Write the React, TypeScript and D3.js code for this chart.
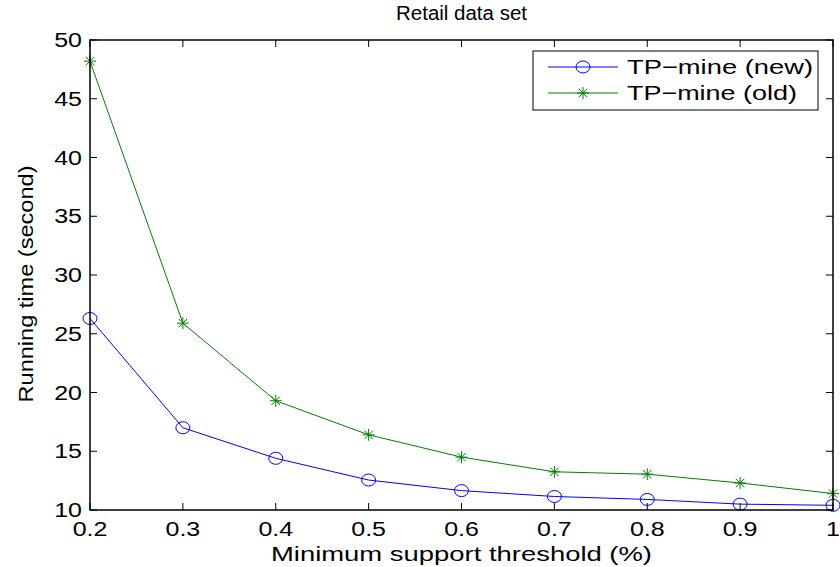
import React, { useEffect, useRef } from "react";
import * as d3 from "d3";

const thresholds = [0.2, 0.3, 0.4, 0.5, 0.6, 0.7, 0.8, 0.9, 1.0];
const tpNew = [26.3, 17.0, 14.4, 12.55, 11.65, 11.15, 10.9, 10.5, 10.4];
const tpOld = [48.2, 25.9, 19.3, 16.4, 14.5, 13.25, 13.05, 12.3, 11.4];
const xTicks = [0.2, 0.3, 0.4, 0.5, 0.6, 0.7, 0.8, 0.9, 1];
const yTicks = [10, 15, 20, 25, 30, 35, 40, 45, 50];
const seriesNames = ["TP\u2212mine (new)", "TP\u2212mine (old)"];

const W = 840;
const H = 567;
const margin = { left: 90, top: 40, right: 7, bottom: 57 };

export default function App() {
  const svgRef = useRef<SVGSVGElement>(null);

  useEffect(() => {
    const svg = d3.select(svgRef.current);
    svg.selectAll("*").remove();
    const font = "'Liberation Sans', Arial, sans-serif";

    const x = d3.scaleLinear().domain([0.2, 1]).range([margin.left, W - margin.right]);
    const y = d3.scaleLinear().domain([10, 50]).range([H - margin.bottom, margin.top]);
    const x0 = margin.left, x1 = W - margin.right;
    const y0 = H - margin.bottom, y1 = margin.top;

    // text comes out wider than plain Liberation Sans in the original, so stretch to fit
    const label = (tx: number, ty: number, txt: string, size: number, len: number, rot = 0) =>
      svg.append("text")
        .attr("transform", `translate(${tx},${ty}) rotate(${rot})`)
        .attr("text-anchor", "middle")
        .attr("font-family", font).attr("font-size", size)
        .attr("textLength", len).attr("lengthAdjust", "spacingAndGlyphs")
        .text(txt);

    label((x0 + x1) / 2, 20, "Retail data set", 20, 131);
    label((x0 + x1) / 2, 561, "Minimum support threshold (%)", 20, 381);
    label(33, 284, "Running time (second)", 20, 237, -90);

    // ticks (inside, on all four sides)
    const tl = 7;
    const tickG = svg.append("g").attr("stroke", "#000").attr("stroke-width", 1);
    xTicks.forEach((t) => {
      tickG.append("line").attr("x1", x(t)).attr("x2", x(t)).attr("y1", y0).attr("y2", y0 - tl);
      tickG.append("line").attr("x1", x(t)).attr("x2", x(t)).attr("y1", y1).attr("y2", y1 + tl);
    });
    yTicks.forEach((t) => {
      tickG.append("line").attr("x1", x0).attr("x2", x0 + tl).attr("y1", y(t)).attr("y2", y(t));
      tickG.append("line").attr("x1", x1).attr("x2", x1 - tl).attr("y1", y(t)).attr("y2", y(t));
    });

    // tick labels
    svg.append("g").selectAll("text").data(xTicks).enter().append("text")
      .attr("transform", (d) => `translate(${x(d)},${y0 + 26}) scale(1.25,1)`)
      .attr("text-anchor", "middle")
      .attr("font-family", font).attr("font-size", 20)
      .text((d) => (d === 1 ? "1" : d.toFixed(1)));
    svg.append("g").selectAll("text").data(yTicks).enter().append("text")
      .attr("transform", (d) => `translate(${x0 - 8},${y(d) + 7}) scale(1.25,1)`)
      .attr("text-anchor", "end")
      .attr("font-family", font).attr("font-size", 20)
      .text((d) => d);

    const line = d3.line<number>().x((_, i) => x(thresholds[i])).y((d) => y(d));

    const star = (g: any, cx: number, cy: number, color: string) => {
      const r = 6;
      [0, 45, 90, 135].forEach((a) => {
        const rad = (a * Math.PI) / 180;
        g.append("line")
          .attr("x1", cx - r * Math.cos(rad)).attr("y1", cy - r * Math.sin(rad))
          .attr("x2", cx + r * Math.cos(rad)).attr("y2", cy + r * Math.sin(rad))
          .attr("stroke", color).attr("stroke-width", 1);
      });
    };

    // old series
    svg.append("path").datum(tpOld).attr("d", line)
      .attr("fill", "none").attr("stroke", "#008000").attr("stroke-width", 1);
    const oldG = svg.append("g");
    tpOld.forEach((d, i) => star(oldG, x(thresholds[i]), y(d), "#008000"));

    // new series
    svg.append("path").datum(tpNew).attr("d", line)
      .attr("fill", "none").attr("stroke", "#0000ff").attr("stroke-width", 1);
    svg.append("g").selectAll("ellipse").data(tpNew).enter().append("ellipse")
      .attr("cx", (_, i) => x(thresholds[i])).attr("cy", (d) => y(d))
      .attr("rx", 7).attr("ry", 6)
      .attr("fill", "none").attr("stroke", "#0000ff").attr("stroke-width", 1);

    // axes box
    svg.append("rect")
      .attr("x", x0).attr("y", y1).attr("width", x1 - x0).attr("height", y0 - y1)
      .attr("fill", "none").attr("stroke", "#000").attr("stroke-width", 1.5);

    // legend
    const lg = svg.append("g");
    lg.append("rect").attr("x", 533).attr("y", 51).attr("width", 285).attr("height", 59)
      .attr("fill", "#fff").attr("stroke", "#000").attr("stroke-width", 1);
    const items = [
      { label: seriesNames[0], color: "#0000ff", mark: "o", yy: 67, len: 186 },
      { label: seriesNames[1], color: "#008000", mark: "*", yy: 93, len: 170 },
    ];
    items.forEach((it) => {
      lg.append("line").attr("x1", 548).attr("x2", 618).attr("y1", it.yy).attr("y2", it.yy)
        .attr("stroke", it.color).attr("stroke-width", 1);
      if (it.mark === "o") {
        lg.append("ellipse").attr("cx", 583).attr("cy", it.yy).attr("rx", 7).attr("ry", 6)
          .attr("fill", "none").attr("stroke", it.color);
      } else {
        star(lg, 583, it.yy, it.color);
      }
      lg.append("text").attr("x", 627).attr("y", it.yy + 7)
        .attr("font-family", font).attr("font-size", 21)
        .attr("textLength", it.len).attr("lengthAdjust", "spacingAndGlyphs")
        .text(it.label);
    });
  }, []);

  return (
    <svg ref={svgRef} width={W} height={H}
      style={{ position: "absolute", left: 0, top: 0, background: "#fff" }} />
  );
}
